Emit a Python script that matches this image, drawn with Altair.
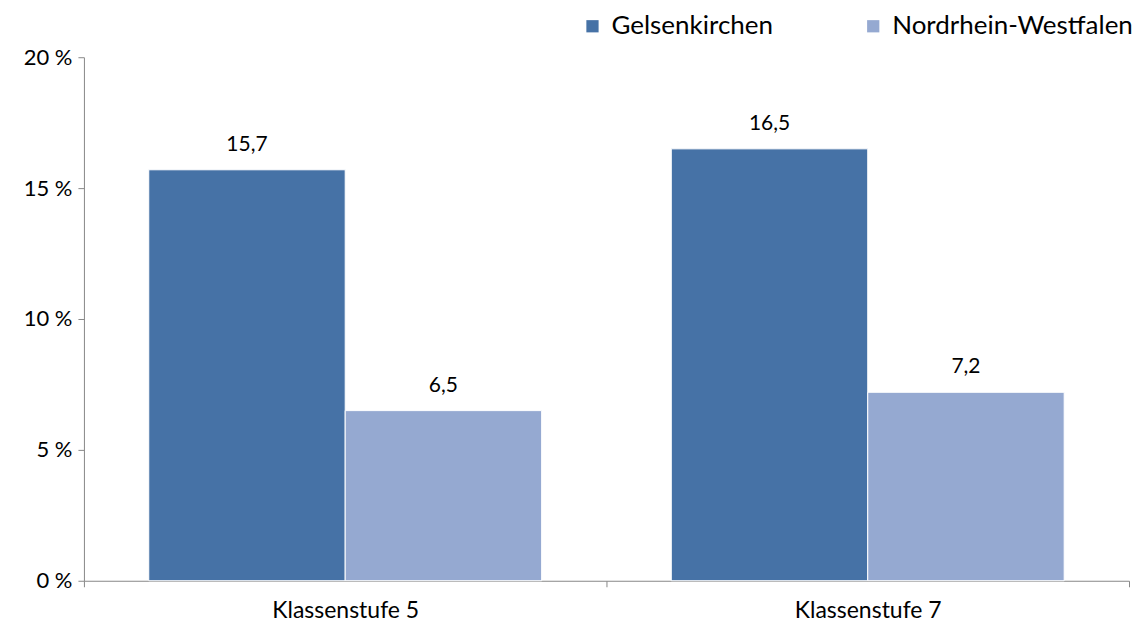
import altair as alt
import pandas as pd

categories = ["Klassenstufe 5", "Klassenstufe 7"]
series = ["Gelsenkirchen", "Nordrhein-Westfalen"]
gelsenkirchen = [15.7, 16.5]
nrw = [6.5, 7.2]
colors = ["#4672A6", "#95A9D1"]

rows = []
for i, c in enumerate(categories):
    rows.append({"Klasse": c, "Gebiet": series[0], "Wert": gelsenkirchen[i]})
    rows.append({"Klasse": c, "Gebiet": series[1], "Wert": nrw[i]})
df = pd.DataFrame(rows)

FONT = "Lato"

base = alt.Chart(df).encode(
    x=alt.X("Klasse:N", sort=categories,
            scale=alt.Scale(paddingInner=0, paddingOuter=0),
            axis=alt.Axis(title=None, labelAngle=0, labelFontSize=23, labelFont=FONT,
                          labelColor="#000000", labelPadding=13,
                          tickBand="extent", tickSize=6, tickColor="#888888",
                          domainColor="#888888", grid=False)),
    xOffset=alt.XOffset("Gebiet:N", sort=series,
                        scale=alt.Scale(paddingInner=0, paddingOuter=0.33)),
)

bars = base.mark_bar(stroke="white", strokeWidth=1).encode(
    y=alt.Y("Wert:Q", scale=alt.Scale(domain=[0, 20]),
            axis=alt.Axis(title=None, values=[0, 5, 10, 15, 20],
                          labelExpr="datum.value + ' %'", labelFontSize=22,
                          labelFont=FONT, labelColor="#000000", labelPadding=6,
                          tickSize=6, tickColor="#888888", domainColor="#888888",
                          grid=False)),
    color=alt.Color("Gebiet:N", sort=series,
                    scale=alt.Scale(domain=series, range=colors),
                    legend=alt.Legend(title=None, orient="none", direction="horizontal",
                                      legendX=496, legendY=-44, padding=0,
                                      symbolType="square", symbolSize=150,
                                      symbolStrokeWidth=0, labelFontSize=26,
                                      labelFont=FONT, labelColor="#000000",
                                      labelLimit=500,
                                      columnPadding=87, labelOffset=6)),
)

labels = base.mark_text(dy=-15, fontSize=21, font=FONT, color="#000000", baseline="bottom").encode(
    y="Wert:Q",
    text="lbl:N",
).transform_calculate(lbl="replace(format(datum.Wert, '.1f'), '.', ',')")

chart = (bars + labels).properties(width=1046, height=524, padding={"left": 15, "top": 5, "right": 0, "bottom": 0}).configure_view(stroke=None)

chart.save("out.html", embed_options={"renderer": "svg", "actions": False})
